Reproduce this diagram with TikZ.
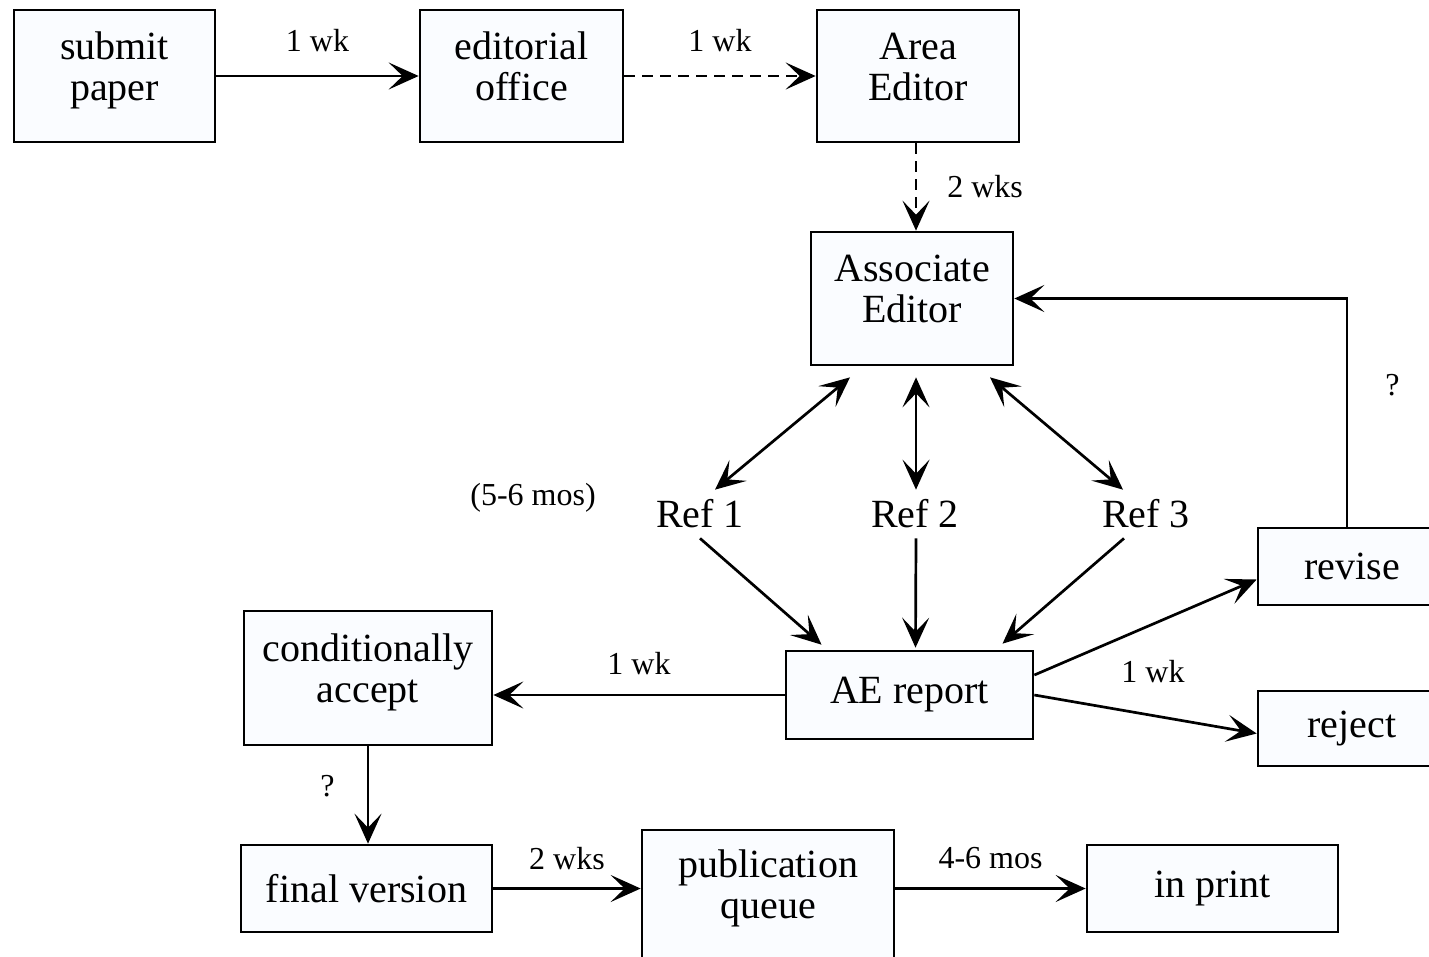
\documentclass[tikz,border=0pt]{standalone}
\usepackage{fontspec}
\setmainfont{Liberation Serif}
\usetikzlibrary{arrows.meta}

\definecolor{boxfill}{RGB}{250,252,255}

\begin{document}
\begin{tikzpicture}[x=1pt,y=-1pt,->,>={Stealth[length=30pt,width=27pt,inset=14pt]},
                    line width=2.7pt,
                    box node/.style={rectangle,draw,fill=boxfill,align=center,inner sep=0pt,
                                     font=\fontsize{40}{41}\selectfont},
                    two lines/.style={text depth=19pt},
                    ref node/.style={inner sep=0pt,minimum height=46pt,font=\fontsize{40}{40}\selectfont},
                    note/.style={inner sep=0pt,font=\fontsize{32}{36}\selectfont}]
  \useasboundingbox (0,0) rectangle (1429,956);

  \node[box node,two lines,minimum width=201pt,minimum height=132pt] (submit) at (114.5,76) {submit\\paper};
  \node[box node,two lines,minimum width=203pt,minimum height=132pt] (editorial) at (521.5,76) {editorial\\office};
  \node[box node,two lines,minimum width=202pt,minimum height=132pt] (area) at (918,76) {Area\\Editor};
  \node[box node,two lines,minimum width=202pt,minimum height=133pt] (assoc) at (912,298.5) {Associate\\Editor};

  \node[ref node] (ref1) at (700,514) {Ref 1};
  \node[ref node] (ref2) at (915,514) {Ref 2};
  \node[ref node] (ref3) at (1146,514) {Ref 3};
  \node[note] (mos) at (533,498) {(5-6 mos)};

  \node[box node,minimum width=247pt,minimum height=88pt] (ae) at (909.5,695) {AE report};
  \node[box node,two lines,minimum width=248pt,minimum height=134pt] (cond) at (368,678) {conditionally\\accept};
  \node[box node,minimum width=188pt,minimum height=77pt] (revise) at (1352,566.5) {revise};
  \node[box node,minimum width=188pt,minimum height=75pt] (reject) at (1352,728.5) {reject};
  \node[note] (wk) at (1153,672) {1 wk};

  \node[box node,minimum width=251pt,minimum height=87pt] (final) at (366.5,888.5) {final version};
  \node[box node,minimum width=252pt,minimum height=150pt] (pub) at (768,905) {};
  \node[box node,two lines,draw=none,fill=none] (pubtext) at (768,894) {publication\\queue};
  \node[box node,minimum width=251pt,minimum height=87pt] (inprint) at (1212.5,888.5) {in print};

\path[every node/.style={note}]
    (submit) edge node[above=23pt] {1 wk} (editorial)
    (editorial) edge[dashed,dash pattern=on 11pt off 7pt] node[above=23pt] {1 wk} (area)
    ([xshift=-2pt]area.south) edge[dashed,dash pattern=on 11pt off 7pt] node[right=30pt] {2 wks}
        ([xshift=4pt]assoc.north)
    ([xshift=-62pt,yshift=-11pt]assoc.south) edge[<->] ([xshift=15pt]ref1.north)
    ([xshift=4pt,yshift=-11pt]assoc.south) edge[<->] ([xshift=1pt]ref2.north)
    ([xshift=78pt,yshift=-11pt]assoc.south) edge[<->] ([xshift=-23pt]ref3.north)
    (ref1.south) edge ([xshift=-88pt,yshift=5pt]ae.north)
    ([xshift=1pt]ref2.south) edge ([xshift=6pt,yshift=2pt]ae.north)
    ([xshift=-22pt]ref3.south) edge ([xshift=93pt,yshift=6pt]ae.north)
    (ae.west) edge node[above=19pt] {1 wk} (ae.west -| cond.east)
    ([yshift=20pt]ae.east) edge ([yshift=-13pt]revise.west)
    (ae.east) edge ([yshift=-5pt]reject.west)
    (cond.south) edge node[pos=0.41,left=32pt] {?} (cond.south |- final.north)
    (final.east) edge node[above=17pt] {2 wks} (final.east -| pub.west)
    (pub.east |- inprint.west) edge node[above=18pt] {4-6 mos} (inprint.west)
;
  \draw ([xshift=-5pt]revise.north) |- node[note,pos=0.31,right=37pt] {?} (assoc.east);
\end{tikzpicture}
\end{document}
